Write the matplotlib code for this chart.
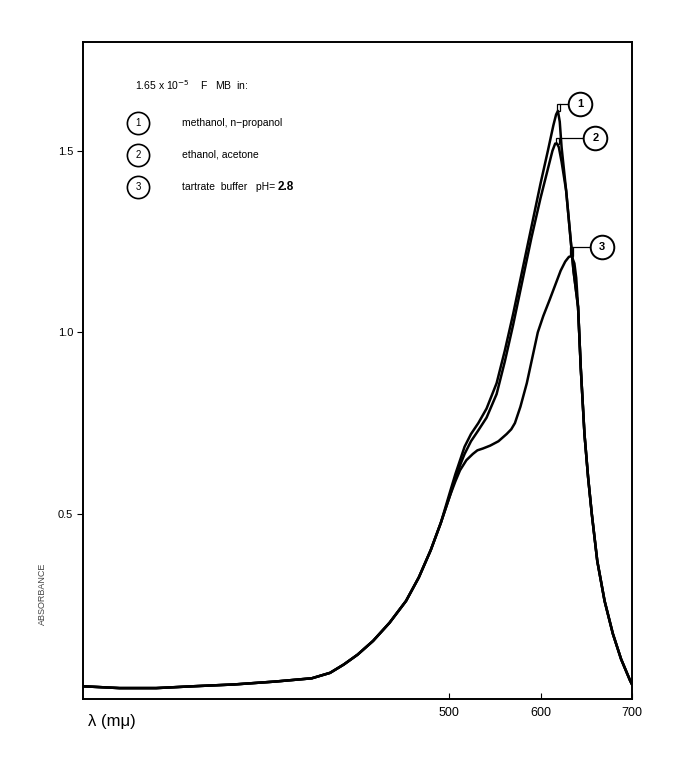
import matplotlib.pyplot as plt
from matplotlib.patches import Rectangle

# wavelength (m-mu) / absorbance
base_nm = [100, 140, 180, 220, 265, 310, 350, 370, 385, 400, 417, 435, 453, 467, 480, 491]
base_a = [0.025, 0.020, 0.020, 0.025, 0.030, 0.038, 0.047, 0.062, 0.085, 0.112, 0.150, 0.200, 0.260, 0.325, 0.400, 0.475]

tail_nm = [641, 644, 648, 652, 656, 662, 670, 679, 688, 698, 700]
tail_a = [1.07, 0.90, 0.72, 0.60, 0.50, 0.37, 0.26, 0.17, 0.10, 0.04, 0.03]

c1_nm = [501, 507, 513, 517, 524, 532, 541, 552, 561, 570, 580, 590, 600, 608, 614, 617, 619, 621, 623, 628, 632, 636]
c1_a = [0.56, 0.61, 0.655, 0.685, 0.72, 0.75, 0.79, 0.86, 0.95, 1.05, 1.17, 1.29, 1.41, 1.50, 1.57, 1.60, 1.61, 1.58, 1.51, 1.39, 1.28, 1.17]

c2_nm = [501, 507, 513, 517, 524, 532, 541, 552, 561, 570, 580, 590, 600, 608, 613, 616, 618, 620, 623, 628, 632, 636]
c2_a = [0.55, 0.60, 0.64, 0.665, 0.70, 0.73, 0.765, 0.83, 0.92, 1.02, 1.14, 1.26, 1.37, 1.45, 1.50, 1.52, 1.52, 1.51, 1.47, 1.39, 1.28, 1.17]

c3_nm = [501, 507, 512, 519, 526, 531, 537, 545, 554, 563, 568, 572, 578, 585, 591, 597, 603, 610, 616, 622, 627, 631, 634, 637, 639]
c3_a = [0.55, 0.59, 0.62, 0.648, 0.665, 0.675, 0.68, 0.688, 0.70, 0.72, 0.733, 0.75, 0.795, 0.86, 0.93, 1.00, 1.045, 1.09, 1.13, 1.17, 1.195, 1.208, 1.21, 1.19, 1.15]

peak_nm = [619, 618, 634]
peak_a = [1.61, 1.52, 1.21]
tag_nm = [643, 660, 667]
tag_a = [1.63, 1.535, 1.235]
tags = ['1', '2', '3']

legend_txt = ['methanol, n\u2212propanol', 'ethanol, acetone', 'tartrate  buffer   pH= ']

plt.rcParams['font.family'] = ['Liberation Sans', 'DejaVu Sans']

fig = plt.figure(figsize=(6.77, 7.64), dpi=100)
ax = fig.add_axes([0.1226, 0.0851, 0.811, 0.860])

for nm, a in [(c1_nm, c1_a), (c2_nm, c2_a), (c3_nm, c3_a)]:
    ax.plot(base_nm + nm + tail_nm, base_a + a + tail_a, color='black', lw=1.8,
            solid_capstyle='round', solid_joinstyle='round')

# peak brackets and numbered circles
for pn, pa, tn, ta, t in zip(peak_nm, peak_a, tag_nm, tag_a, tags):
    ax.add_patch(Rectangle((pn - 1.5, pa), 3.5, ta - pa, fill=False, lw=0.9, ec='black'))
    ax.plot([pn + 2, tn], [ta, ta], color='black', lw=0.9)
    ax.plot(tn, ta, 'o', ms=17, mfc='white', mec='black', mew=1.4)
    ax.text(tn, ta, t, ha='center', va='center', fontsize=8, fontweight='bold')

ax.set_xlim(100, 700)
ax.set_ylim(-0.01, 1.8)
ax.set_xticks([500, 600, 700])
ax.set_yticks([0.5, 1.0, 1.5])
ax.set_yticklabels(['0.5', '1.0', '1.5'])
ax.tick_params(axis='x', direction='in', length=4, labelsize=9, pad=6)
ax.tick_params(axis='y', direction='out', length=4, labelsize=8, pad=3)
for sp in ax.spines.values():
    sp.set_linewidth(1.4)

ax.text(-0.073, 0.16, 'ABSORBANCE', transform=ax.transAxes, rotation=90,
        fontsize=6.5, color='#444444', va='center', ha='center')
ax.text(0.01, -0.035, '\u03bb (m\u03bc)', transform=ax.transAxes, fontsize=12,
        va='center', ha='left')

# legend block
ax.text(0.095, 0.935, '1.65 x 10$^{-5}$    F   MB  in:', transform=ax.transAxes,
        fontsize=7.5, va='center')
for i, s in enumerate(legend_txt):
    y = 0.877 - i * 0.049
    ax.plot(0.100, y, 'o', transform=ax.transAxes, ms=16, mfc='white', mec='black', mew=1.2)
    ax.text(0.100, y, str(i + 1), transform=ax.transAxes, ha='center', va='center', fontsize=7)
    t = ax.text(0.180, y, s, transform=ax.transAxes, fontsize=7.5, va='center')
    if i == 2:
        ax.annotate('2.8', xy=(1, 0.5), xycoords=t, va='center', ha='left',
                    fontsize=8.5, fontweight='bold')

fig.savefig('out.png', dpi=100)
